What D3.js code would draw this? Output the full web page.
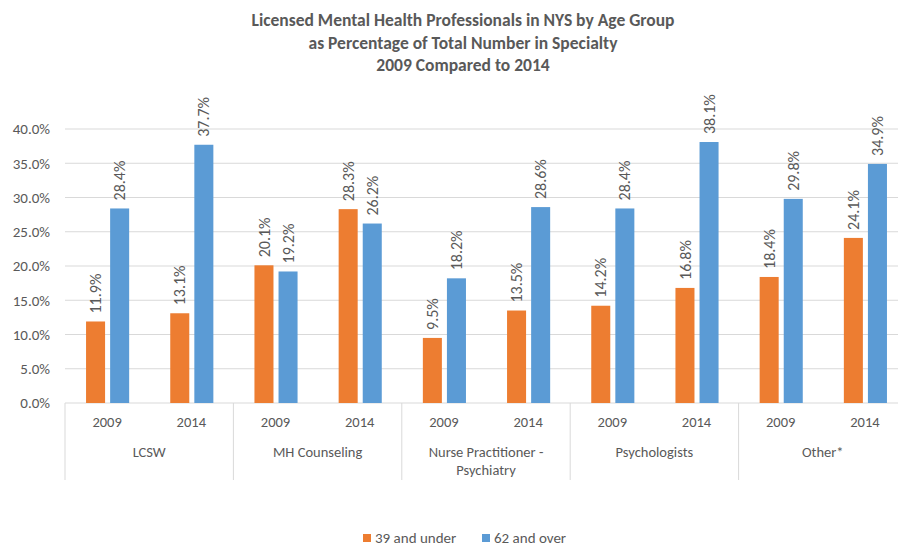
<!DOCTYPE html>
<html>
<head>
<meta charset="utf-8">
<script src="https://cdn.jsdelivr.net/npm/d3@7"></script>
<style>
  body { margin: 0; background: #fff; }
  text { font-family: Carlito, Lato, "Open Sans", sans-serif; fill: #595959; }
</style>
</head>
<body>
<div id="chart"></div>
<script>
// specialties (outer categories), years (inner categories), series
var groups = ["LCSW", "MH Counseling", "Nurse Practitioner - Psychiatry", "Psychologists", "Other*"];
var groupLines = [["LCSW"], ["MH Counseling"], ["Nurse Practitioner -", "Psychiatry"], ["Psychologists"], ["Other*"]];
var years = ["2009", "2014"];
var seriesNames = ["39 and under", "62 and over"];
var colors = ["#ED7D31", "#5B9BD5"];

// values per group, in year order
var under39 = [[11.9, 13.1], [20.1, 28.3], [9.5, 13.5], [14.2, 16.8], [18.4, 24.1]];
var over62 = [[28.4, 37.7], [19.2, 26.2], [18.2, 28.6], [28.4, 38.1], [29.8, 34.9]];
var yTicks = [0, 5, 10, 15, 20, 25, 30, 35, 40];

var svgWidth = 898, svgHeight = 550;
var margin = {top: 129, left: 65, right: -9, bottom: 147};
var plotBottom = svgHeight - margin.bottom;   // 403

var svg = d3.select("#chart").append("svg")
    .attr("width", svgWidth)
    .attr("height", svgHeight);

// title
var titleLines = ["Licensed Mental Health Professionals in NYS by Age Group",
                  "as Percentage of Total Number in Specialty",
                  "2009 Compared to 2014"];
svg.append("g").selectAll("text")
    .data(titleLines)
    .enter().append("text")
    .attr("x", 463)
    .attr("y", (d, i) => 26 + i * 22.5)
    .attr("text-anchor", "middle")
    .attr("font-size", "17.5px")
    .attr("font-weight", "bold")
    .text(d => d);

var x0 = d3.scaleBand().domain(groups).range([margin.left, svgWidth - margin.right]);
var x1 = d3.scaleBand().domain(years).range([0, x0.bandwidth()]);
var x2 = d3.scaleBand().domain(seriesNames)
    .range([x1.bandwidth() * 0.25, x1.bandwidth() * 0.762])
    .paddingInner(0.21);
var y = d3.scaleLinear().domain([0, 40]).range([plotBottom, margin.top]);

// gridlines
svg.append("g").selectAll("line")
    .data(yTicks.slice(1))
    .enter().append("line")
    .attr("x1", margin.left).attr("x2", svgWidth)
    .attr("y1", d => y(d)).attr("y2", d => y(d))
    .attr("stroke", "#D9D9D9").attr("stroke-width", 1);

// y axis labels
var yAxis = d3.axisLeft(y).tickValues(yTicks).tickFormat(d => d.toFixed(1) + "%").tickSize(0).tickPadding(15);
var yg = svg.append("g").attr("transform", `translate(${margin.left},0)`).call(yAxis);
yg.select(".domain").remove();
yg.selectAll("text").attr("font-size", "15px").attr("font-family", null).attr("fill", "#595959");

// bottom axis line + dividers
svg.append("line")
    .attr("x1", margin.left).attr("x2", svgWidth)
    .attr("y1", plotBottom).attr("y2", plotBottom)
    .attr("stroke", "#D9D9D9");
var dividers = groups.map(g => x0(g)).concat([x0(groups[groups.length - 1]) + x0.bandwidth()]);
svg.append("g").selectAll("line")
    .data(dividers)
    .enter().append("line")
    .attr("x1", d => d).attr("x2", d => d)
    .attr("y1", plotBottom).attr("y2", 480)
    .attr("stroke", "#D9D9D9");

// bars
var rows = [];
groups.forEach(function(g, gi) {
    years.forEach(function(yr, yi) {
        rows.push({group: g, year: yr, s: seriesNames[0], c: colors[0], v: under39[gi][yi]});
        rows.push({group: g, year: yr, s: seriesNames[1], c: colors[1], v: over62[gi][yi]});
    });
});
var barX = d => x0(d.group) + x1(d.year) + x2(d.s);

svg.append("g").selectAll("rect")
    .data(rows)
    .enter().append("rect")
    .attr("x", barX)
    .attr("y", d => y(d.v))
    .attr("width", x2.bandwidth())
    .attr("height", d => plotBottom - y(d.v))
    .attr("fill", d => d.c);

// data labels
svg.append("g").selectAll("text")
    .data(rows)
    .enter().append("text")
    .attr("transform", d => `translate(${barX(d) + x2.bandwidth() / 2},${y(d.v) - 8}) rotate(-90)`)
    .attr("dy", "0.35em")
    .attr("font-size", "16px")
    .text(d => d.v.toFixed(1) + "%");

// year labels
var yearRows = [];
groups.forEach(g => years.forEach(yr => yearRows.push({group: g, year: yr})));
svg.append("g").selectAll("text")
    .data(yearRows)
    .enter().append("text")
    .attr("x", d => x0(d.group) + x1(d.year) + x1.bandwidth() / 2)
    .attr("y", 427)
    .attr("text-anchor", "middle")
    .attr("font-size", "14.5px")
    .text(d => d.year);

// group labels
groups.forEach(function(g, gi) {
    svg.append("text")
        .attr("x", x0(g) + x0.bandwidth() / 2)
        .attr("y", 457)
        .attr("text-anchor", "middle")
        .attr("font-size", "14.5px")
        .selectAll("tspan")
        .data(groupLines[gi])
        .enter().append("tspan")
        .attr("x", x0(g) + x0.bandwidth() / 2)
        .attr("dy", (d, i) => i === 0 ? 0 : 18)
        .text(d => d);
});

// legend
var legend = svg.append("g").attr("transform", "translate(363,538)");
var legendX = [0, 119];
seriesNames.forEach(function(s, i) {
    legend.append("rect")
        .attr("x", legendX[i]).attr("y", -4)
        .attr("width", 8).attr("height", 8)
        .attr("fill", colors[i]);
    legend.append("text")
        .attr("x", legendX[i] + 12).attr("y", 0)
        .attr("dy", "0.35em")
        .attr("font-size", "15px")
        .text(s);
});
</script>
</body>
</html>
